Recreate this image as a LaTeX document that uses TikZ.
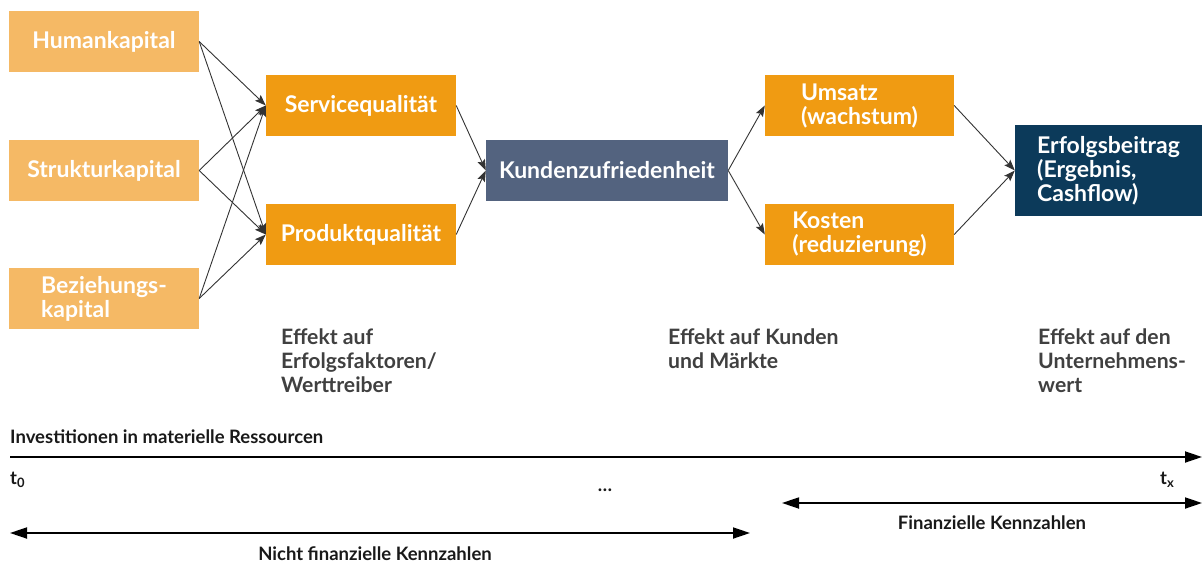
\documentclass[tikz,border=0pt]{standalone}
\usepackage{fontspec}
\setmainfont{Lato}
\usetikzlibrary{arrows.meta}
\definecolor{lightor}{HTML}{F5B965}
\definecolor{darkor}{HTML}{F09B12}
\definecolor{slate}{HTML}{53637F}
\definecolor{navy}{HTML}{0C3A5A}
\definecolor{lbl}{HTML}{404040}
\definecolor{conncol}{HTML}{333333}
\tikzset{
  box/.style={rectangle, minimum width=190pt, minimum height=61pt, inner sep=0pt,
    text=white, font=\bfseries\fontsize{23}{24}\selectfont, align=left},
  conn/.style={draw=conncol, line width=0.9pt, -{Stealth[length=11pt,width=8pt,inset=2pt]}},
  lab/.style={anchor=north west, inner sep=0pt, text=lbl, align=left,
    font=\bfseries\fontsize{21.2}{24}\selectfont},
  small/.style={inner sep=0pt, text=black!90, font=\bfseries\fontsize{18.5}{20}\selectfont},
  tline/.style={line width=1.8pt, black},
  ttip/.tip={Triangle[length=17pt,width=11pt]}
}
\begin{document}
\begin{tikzpicture}[x=1pt,y=-1pt]
\useasboundingbox (0,0) rectangle (1202,565);

\node[box, fill=lightor] (hk) at (104,41.5) {Humankapital};
\node[box, fill=lightor] (sk) at (104,170.5) {Strukturkapital};
\node[box, fill=lightor] (bk) at (104,298.5) {Beziehungs-\\kapital};
\node[box, fill=darkor] (sq) at (361,105.5) {Servicequalität};
\node[box, fill=darkor] (pq) at (361,234.5) {Produktqualität};
\node[box, fill=slate, minimum width=242pt] (kz) at (607,170.5) {Kundenzufriedenheit};
\node[box, fill=darkor, minimum width=189pt] (um) at (859.5,105.5) {Umsatz\\(wachstum)};
\node[box, fill=darkor, minimum width=189pt] (ko) at (859.5,234.5) {Kosten\\(reduzierung)};
\node[box, fill=navy, minimum width=187pt, minimum height=91pt] (eb) at (1108.5,170.5) {Erfolgsbeitrag\\(Ergebnis,\\Cashflow)};

\foreach \s in {hk,sk,bk}{
  \draw[conn] (\s.east) -- (sq.west);
  \draw[conn] (\s.east) -- (pq.west);
}
\draw[conn] (sq.east) -- (kz.west);
\draw[conn] (pq.east) -- (kz.west);
\draw[conn] (kz.east) -- (um.west);
\draw[conn] (kz.east) -- (ko.west);
\draw[conn] (um.east) -- (eb.west);
\draw[conn] (ko.east) -- (eb.west);

\node[lab] (l1) at (281,329) {Effekt auf\\Erfolgsfaktoren/\\Werttreiber};
\node[lab] (l2) at (668,329) {Effekt auf Kunden\\und Märkte};
\node[lab] (l3) at (1038,329) {Effekt auf den\\Unternehmens-\\wert};

\node[small, anchor=west] (inv) at (10,437) {Investitionen in materielle Ressourcen};
\coordinate (a0) at (10,457);
\coordinate (a1) at (1202,457);
\draw[tline, -ttip] (a0) -- (a1);
\node[small, anchor=west] (t0) at (10,480) {t\textsubscript{0}};
\node[small, anchor=west] (tx) at (1160,480) {t\textsubscript{x}};
\node[small] (dots) at (605,490) {\dots};

\coordinate (f0) at (782,503);
\coordinate (f1) at (1202,503);
\draw[tline, ttip-ttip] (f0) -- (f1);
\node[small] (fin) at (992,523) {Finanzielle Kennzahlen};

\coordinate (n0) at (10,533);
\coordinate (n1) at (750,533);
\draw[tline, ttip-ttip] (n0) -- (n1);
\node[small] (nfin) at (375,554) {Nicht finanzielle Kennzahlen};
\end{tikzpicture}
\end{document}
